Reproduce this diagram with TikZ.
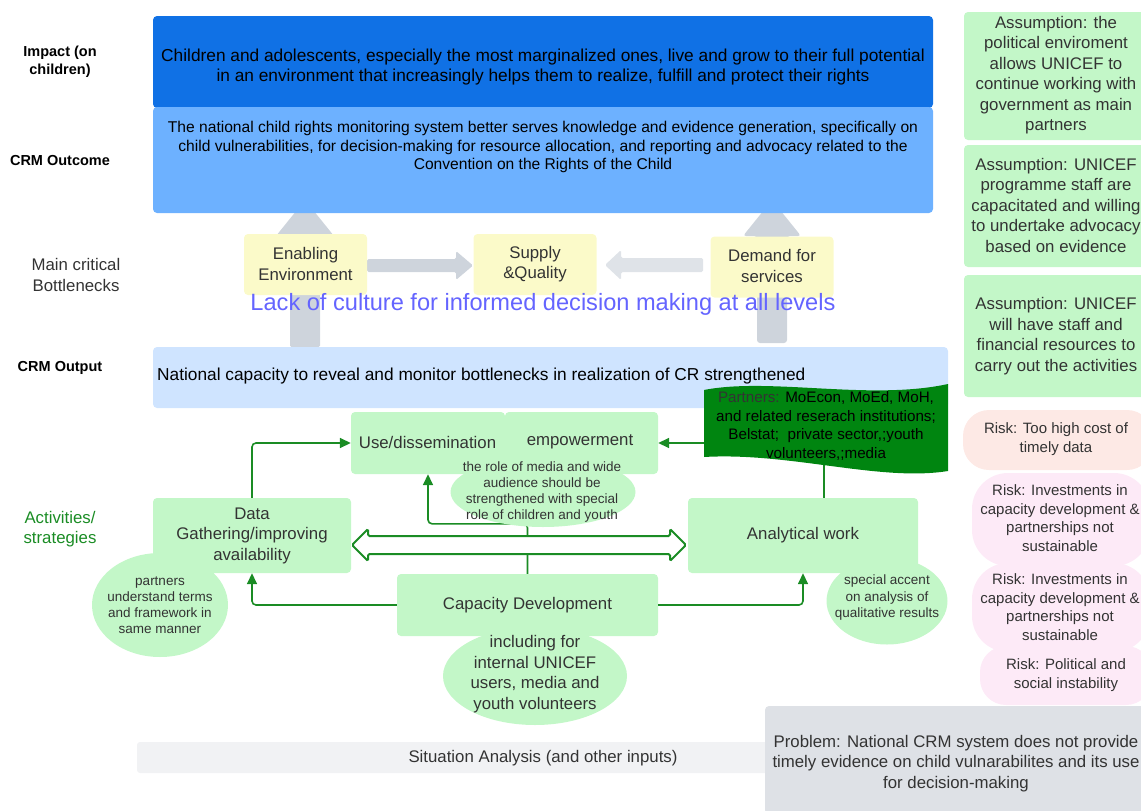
\documentclass[tikz,border=0pt]{standalone}
\usepackage{fontspec}
\setmainfont{Liberation Sans}
\usetikzlibrary{arrows.meta,shapes.geometric}
\definecolor{impactblue}{RGB}{16,113,229}
\definecolor{outcomeblue}{RGB}{109,177,255}
\definecolor{outputblue}{RGB}{207,228,255}
\definecolor{boxgreen}{RGB}{195,247,200}
\definecolor{ylw}{RGB}{251,250,201}
\definecolor{agray}{RGB}{206,212,220}
\definecolor{agraylt}{RGB}{223,227,232}
\definecolor{lgreen}{RGB}{26,140,36}
\definecolor{wavegreen}{RGB}{0,133,16}
\definecolor{lackviolet}{RGB}{100,100,255}
\definecolor{riskpeach}{RGB}{253,233,229}
\definecolor{riskpink}{RGB}{253,234,247}
\definecolor{probgray}{RGB}{222,225,230}
\definecolor{sitgray}{RGB}{241,242,244}
\definecolor{txtgray}{RGB}{51,51,51}
\newcommand\myfs[2]{\fontsize{#1}{#2}\selectfont}
\begin{document}
\begin{tikzpicture}[x=1pt,y=-1pt,
  txt/.style={inner sep=0pt, align=center, text=txtgray, font=\myfs{16.8}{20.5}},
  gbox/.style={fill=boxgreen, rounded corners=4pt, inner sep=0pt, align=center, text=txtgray, font=\myfs{16.8}{20.5}},
  ybox/.style={fill=ylw, rounded corners=4pt, inner sep=0pt, minimum width=123pt, minimum height=61pt},
  gell/.style={ellipse, fill=boxgreen, inner sep=0pt},
  riskbox/.style={fill=riskpink, inner sep=0pt},
  rtxt/.style={inner sep=0pt, align=center, text=txtgray, font=\myfs{15}{18.5}},
  conn/.style={draw=lgreen, line width=1.6pt, rounded corners=4pt},
  tip/.style={-{Triangle[length=11pt,width=10pt]}},
  lbl/.style={inner sep=0pt, align=center, font=\bfseries\myfs{14.5}{18}},
  ]
\useasboundingbox (0,0) rectangle (1141,811);
\begin{scope}
\clip (0,0) rectangle (1141,811);

% situation bar
\node[fill=sitgray, rounded corners=3pt, minimum width=813pt, minimum height=31pt, inner sep=0pt] (sit) at (543.5,757.5) {};
\node[txt] (sittext) at (543,758) {Situation Analysis (and other inputs)};

% gray up arrows
\fill[agray, rounded corners=1.5pt] (290,347) -- (290,236) -- (276,236) -- (305,200) -- (334,236) -- (320,236) -- (320,347) -- cycle;
\fill[agray, rounded corners=3pt] (757,343) -- (757,236) -- (743,236) -- (772,200) -- (801,236) -- (787,236) -- (787,343) -- cycle;

% impact and outcome
\node[fill=impactblue, rounded corners=4pt, minimum width=780pt, minimum height=92pt, inner sep=0pt] (impact) at (543,62) {};
\node[inner sep=0pt, align=center, font=\myfs{17.3}{20}] (impacttext) at (543,67) {Children and adolescents, especially the most marginalized ones, live and grow to their full potential\\in an environment that increasingly helps them to realize, fulfill and protect their rights};
\node[fill=outcomeblue, rounded corners=4pt, minimum width=780pt, minimum height=106pt, inner sep=0pt] (outcome) at (543,160) {};
\node[inner sep=0pt, align=center, font=\myfs{15.6}{18.5}] (outcometext) at (543,147) {The national child rights monitoring system better serves knowledge and evidence generation, specifically on\\child vulnerabilities, for decision-making for resource allocation, and reporting and advocacy related to the\\Convention on the Rights of the Child};

% bottlenecks
\fill[agray, rounded corners=1.5pt] (367,259) -- (456,259) -- (456,251) -- (473,265.5) -- (456,280) -- (456,272) -- (367,272) -- cycle;
\fill[agraylt, rounded corners=1.5pt] (703,258) -- (621,258) -- (621,250) -- (605,265) -- (621,280) -- (621,272) -- (703,272) -- cycle;
\node[ybox] (enabling) at (305.5,264.5) {};
\node[txt] (enabtext) at (305.5,264) {Enabling\\Environment};
\node[ybox] (supply) at (535,264.5) {};
\node[txt] (supplytext) at (535,264) {Supply\\\&Quality};
\node[ybox] (demand) at (772,267) {};
\node[txt] (demandtext) at (772,266) {Demand for\\services};
\node[inner sep=0pt, font=\myfs{23.6}{26}, text=lackviolet] (lack) at (543,304) {Lack of culture for informed decision making at all levels};

% output
\node[fill=outputblue, rounded corners=4pt, minimum width=795pt, minimum height=61pt, inner sep=0pt] (output) at (550.5,377.5) {};
\node[inner sep=0pt, anchor=west, font=\myfs{17.3}{20}] (outputtext) at (157,376) {National capacity to reveal and monitor bottlenecks in realization of CR strengthened};

% activity boxes
\node[gbox, minimum width=154pt, minimum height=62pt] (usediss) at (428,443) {};
\node[gbox, minimum width=153pt, minimum height=62pt] (empower) at (581.5,443) {};
\node[txt] (usetext) at (427.5,442) {Use/dissemination};
\node[txt] (emptext) at (580,442) {empowerment};
\node[gbox, minimum width=198pt, minimum height=75pt] (data) at (252,535.5) {};
\node[txt] (datatext) at (252,535.5) {Data\\Gathering/improving\\availability};
\node[gbox, minimum width=230pt, minimum height=75pt] (analytical) at (803,535.5) {};
\node[txt] (analtext) at (803,535) {Analytical work};
\node[gbox, minimum width=261pt, minimum height=62pt] (cap) at (527.5,605) {};
\node[txt] (captext) at (527.5,605) {Capacity Development};

% connectors
\draw[conn,tip] (cap.north) -- ++(0,-50) -| (usediss.south);
\draw[conn,tip] (data.north) |- (usediss.west);
\draw[conn,tip] (cap.west) -| (data.south);
\draw[conn,tip] (cap.east) -| (analytical.south);
\draw[conn,tip] ([xshift=21pt]analytical.north) |- (empower.east);

% ellipses
\node[gell, minimum width=185pt, minimum height=70pt] (media) at (543,492) {};
\node[inner sep=0pt, align=center, text=txtgray, font=\myfs{13.5}{16.3}] (mediatext) at (542,492) {the role of media and wide\\audience should be\\strengthened with special\\role of children and youth};
\node[gell, minimum width=136pt, minimum height=104pt] (partell) at (160,605) {};
\node[inner sep=0pt, align=center, text=txtgray, font=\myfs{13.5}{16}] (parttext) at (160,605) {partners\\understand terms\\and framework in\\same manner};
\node[gell, minimum width=121pt, minimum height=87pt] (special) at (887,601) {};
\node[inner sep=0pt, align=center, text=txtgray, font=\myfs{13.5}{16.5}] (specialtext) at (887,598) {special accent\\on analysis of\\qualitative results};
\node[gell, minimum width=184pt, minimum height=98pt] (including) at (535,676) {};
\node[txt, font=\myfs{16.8}{20.7}] (inctext) at (535,674) {including for\\internal UNICEF\\users, media and\\youth volunteers};

% double arrow
\draw[lgreen, line width=2pt, fill=white, rounded corners=1.5pt] (352,545) -- (368,529) -- (368,536) -- (670,536) -- (670,529) -- (686,545) -- (670,561) -- (670,554) -- (368,554) -- (368,561) -- cycle;

% partners wave
\fill[wavegreen] (704,390) .. controls (770,377) and (870,401) .. (948,384) -- (948,471) .. controls (880,482) and (790,452) .. (704,457) -- cycle;
\node[inner sep=0pt, align=center, font=\myfs{15.2}{18.5}] (partners) at (826,426) {{\color{txtgray}Partners:} MoEcon, MoEd, MoH,\\and related reserach institutions;\\Belstat;\ \ private sector,;youth\\volunteers,;media};

% assumptions
\node[gbox, minimum width=186pt, minimum height=128pt] (a1) at (1057,76) {};
\node[txt] (a1t) at (1056,75) {Assumption: the\\political enviroment\\allows UNICEF to\\continue working with\\government as main\\partners};
\node[gbox, minimum width=186pt, minimum height=122pt] (a2) at (1057,206) {};
\node[txt] (a2t) at (1056,205) {Assumption: UNICEF\\programme staff are\\capacitated and willing\\to undertake advocacy\\based on evidence};
\node[gbox, minimum width=186pt, minimum height=122pt] (a3) at (1057,336) {};
\node[txt] (a3t) at (1056,336) {Assumption: UNICEF\\will have staff and\\financial resources to\\carry out the activities};

% risks
\node[riskbox, fill=riskpeach, rounded corners=26pt, minimum width=190pt, minimum height=60pt] (r1) at (1058,440) {};
\node[rtxt] (r1t) at (1056,439) {Risk: Too high cost of\\timely data};
\node[riskbox, rounded corners=36pt, minimum width=178pt, minimum height=93pt] (r2) at (1061,519.5) {};
\node[rtxt] (r2t) at (1060,518) {Risk: Investments in\\capacity development \&\\partnerships not\\sustainable};
\node[riskbox, rounded corners=36pt, minimum width=178pt, minimum height=89pt] (r3) at (1061,607.5) {};
\node[rtxt] (r3t) at (1060,607) {Risk: Investments in\\capacity development \&\\partnerships not\\sustainable};
\node[riskbox, rounded corners=26pt, minimum width=172pt, minimum height=59pt] (r4) at (1066,675.5) {};
\node[rtxt] (r4t) at (1066,675) {Risk: Political and\\social instability};

% problem
\node[gbox, fill=probgray, minimum width=385pt, minimum height=108pt] (problem) at (957.5,760) {};
\node[txt] (problemtext) at (956,763.5) {Problem: National CRM system does not provide\\timely evidence on child vulnarabilites and its use\\for decision-making};

% left labels
\node[lbl] (limpact) at (60,62) {Impact (on\\children)};
\node[lbl] (loutcome) at (60,161) {CRM Outcome};
\node[txt] (lbottle) at (76,275) {Main critical\\Bottlenecks};
\node[lbl] (loutput) at (60,368) {CRM Output};
\node[txt, text=lgreen] (lact) at (60,529) {Activities/\\strategies};
\end{scope}
\end{tikzpicture}
\end{document}
